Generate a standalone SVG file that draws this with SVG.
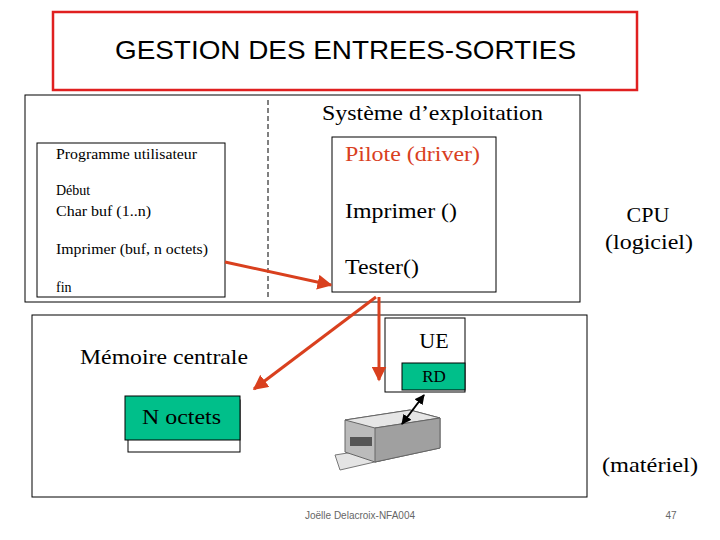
<svg xmlns="http://www.w3.org/2000/svg" width="720" height="540" viewBox="0 0 720 540">
<defs>
<marker id="ar" viewBox="0 0 10 10" refX="9" refY="5" markerWidth="5" markerHeight="5" orient="auto"><path d="M0,0L10,5L0,10z" fill="#d9401e"/></marker>
<marker id="bk" viewBox="0 0 10 10" refX="9" refY="5" markerWidth="5" markerHeight="5" orient="auto-start-reverse"><path d="M0,0L10,5L0,10z" fill="#000"/></marker>
<style>
.s{font-family:"Liberation Serif",serif;fill:#000}
.box{fill:#fff;stroke:#000;stroke-width:1}
.g{fill:#00bf8a;stroke:#000;stroke-width:1}
.r{stroke:#d9401e;stroke-width:3;fill:none}
</style>
</defs>
<rect width="720" height="540" fill="#fff"/>
<g id="title"><rect x="53" y="12" width="584" height="78" fill="#fff" stroke="#e02020" stroke-width="2.5"/>
<text x="115" y="59" textLength="461" lengthAdjust="spacingAndGlyphs" font-family="Liberation Sans,sans-serif" font-size="25">GESTION DES ENTREES-SORTIES</text></g>
<g id="os"><rect class="box" x="25" y="95" width="555" height="207"/>
<line x1="268" y1="100" x2="268" y2="298" stroke="#000" stroke-dasharray="5,3"/>
<text class="s" x="322" y="120" textLength="221" lengthAdjust="spacingAndGlyphs" font-size="22">Système d’exploitation</text></g>
<g id="prog"><rect class="box" x="37" y="143" width="188" height="154"/>
<g class="s" font-size="14"><text x="56" y="159" textLength="141" lengthAdjust="spacingAndGlyphs">Programme utilisateur</text><text x="56" y="195">Début</text><text x="56" y="216" textLength="95" lengthAdjust="spacingAndGlyphs">Char buf (1..n)</text><text x="56" y="254" textLength="152" lengthAdjust="spacingAndGlyphs">Imprimer (buf, n octets)</text><text x="56" y="292">fin</text></g></g>
<g id="driver"><rect class="box" x="332" y="137" width="164" height="155"/>
<text class="s" x="345" y="161" font-size="22" textLength="135" lengthAdjust="spacingAndGlyphs" style="fill:#d9401e">Pilote (driver)</text>
<text class="s" x="345" y="218" font-size="22" textLength="112" lengthAdjust="spacingAndGlyphs">Imprimer ()</text>
<text class="s" x="345" y="274" font-size="22" textLength="74" lengthAdjust="spacingAndGlyphs">Tester()</text></g>
<g id="cpu"><text class="s" x="648" y="222" text-anchor="middle" font-size="22">CPU</text><text class="s" x="605" y="249" font-size="22" textLength="88" lengthAdjust="spacingAndGlyphs">(logiciel)</text></g>
<g id="hw"><rect class="box" x="32" y="315" width="555" height="182"/>
<text class="s" x="602" y="472" font-size="22" textLength="96" lengthAdjust="spacingAndGlyphs">(matériel)</text></g>
<g id="mem"><rect class="box" x="128" y="400" width="112" height="52"/>
<text class="s" x="80" y="364" font-size="22" textLength="168" lengthAdjust="spacingAndGlyphs">Mémoire centrale</text>
<rect class="g" x="125" y="396" width="115" height="44"/>
<text class="s" x="142" y="424" font-size="22" textLength="79" lengthAdjust="spacingAndGlyphs">N octets</text></g>
<g id="ue"><rect class="box" x="385" y="318" width="80" height="74"/>
<text class="s" x="434" y="348" text-anchor="middle" font-size="22">UE</text>
<rect class="g" x="402" y="363" width="63" height="27"/>
<text class="s" x="434" y="382" text-anchor="middle" font-size="17">RD</text></g>
<g id="printer">
<path d="M335,455 L385,447 L392,458 L340,470 Z" fill="#e4e4e4" stroke="#777"/>
<path d="M345,420 L410,410 L440,418 L440,448 L375,462 L345,452 Z" fill="#bbb" stroke="#666"/>
<path d="M345,420 L410,410 L440,418 L375,428 Z" fill="#e6e6e6" stroke="#666"/>
<path d="M375,428 L440,418 L440,448 L375,462 Z" fill="#a0a0a0" stroke="#666"/>
<rect x="350" y="437" width="22" height="9" fill="#555"/>
</g>
<g id="connectors">
<line class="r" x1="225" y1="262" x2="331" y2="285" marker-end="url(#ar)"/>
<line class="r" x1="376" y1="297" x2="254" y2="389" marker-end="url(#ar)"/>
<line class="r" x1="379" y1="297" x2="379" y2="380" marker-end="url(#ar)"/>
<line x1="424" y1="395" x2="402" y2="424" stroke="#000" stroke-width="2" marker-start="url(#bk)" marker-end="url(#bk)"/>
</g>
<g id="footer"><text x="360" y="519" text-anchor="middle" font-family="Liberation Sans,sans-serif" font-size="10" fill="#666">Joëlle Delacroix-NFA004</text>
<text x="671" y="519" text-anchor="middle" font-family="Liberation Sans,sans-serif" font-size="10" fill="#666">47</text></g>
</svg>
